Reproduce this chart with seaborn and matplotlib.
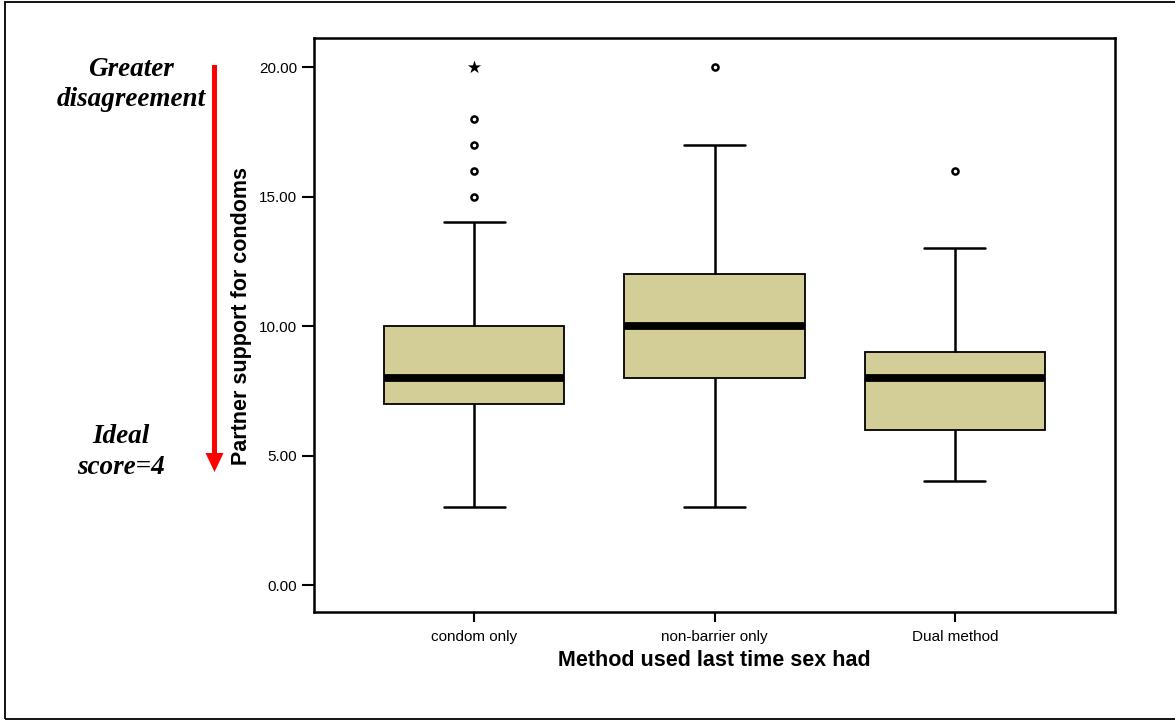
import numpy as np
import pandas as pd
import matplotlib
matplotlib.use("Agg")
import matplotlib.pyplot as plt
from matplotlib.patches import FancyArrow, Rectangle
import seaborn as sns

# ---- data (reconstructed so that box statistics match the picture) ----
categories = ["condom only", "non-barrier only", "Dual method"]
condom_only = [3, 5, 6, 6, 7, 7, 7, 7, 8, 8, 8, 8, 8, 9, 9, 10, 10, 10, 10, 14,
               15, 16, 17, 18, 20]
non_barrier_only = [3, 6, 7, 7, 8, 8, 9, 9, 10, 10, 10, 10, 11, 11, 12, 12, 13,
                    14, 15, 17, 20]
dual_method = [4, 5, 5, 6, 6, 7, 7, 8, 8, 8, 9, 9, 9, 10, 11, 13, 16]
y_ticks = [0, 5, 10, 15, 20]
y_tick_labels = ["0.00", "5.00", "10.00", "15.00", "20.00"]

groups = [condom_only, non_barrier_only, dual_method]
df = pd.DataFrame({
    "method": np.repeat(categories, [len(g) for g in groups]),
    "score": np.concatenate(groups).astype(float),
})

# SPSS style outliers (o) and extremes (*)
mild_rows, extreme_rows = [], []
for cat, g in zip(categories, groups):
    v = np.asarray(g, float)
    q1, q3 = np.percentile(v, [25, 75])
    iqr = q3 - q1
    for x in v:
        if x > q3 + 3 * iqr or x < q1 - 3 * iqr:
            extreme_rows.append((cat, x))
        elif x > q3 + 1.5 * iqr or x < q1 - 1.5 * iqr:
            mild_rows.append((cat, x))
mild_df = pd.DataFrame(mild_rows, columns=["method", "score"])
extreme_df = pd.DataFrame(extreme_rows, columns=["method", "score"])

sns.set_theme(style="white")
plt.rcParams["font.family"] = ["Liberation Sans", "DejaVu Sans"]
plt.rcParams["text.color"] = "black"
plt.rcParams["axes.labelcolor"] = "black"
plt.rcParams["xtick.color"] = "black"
plt.rcParams["ytick.color"] = "black"

W, H = 1175, 721
fig = plt.figure(figsize=(W / 100, H / 100), dpi=100)
ax = fig.add_axes([314 / W, 1 - 612 / H, (1115 - 314) / W, (612 - 38) / H])

sns.boxplot(data=df, x="method", y="score", order=categories, ax=ax,
            color="#D3CD98", saturation=1, width=0.75, linecolor="black",
            linewidth=1.3, showfliers=False, capwidths=0.255,
            medianprops={"linewidth": 5.6},
            whiskerprops={"linewidth": 1.8}, capprops={"linewidth": 1.8})
sns.stripplot(data=mild_df, x="method", y="score", order=categories, ax=ax,
              jitter=False, marker="o", color="white", edgecolor="black",
              linewidth=1.8, size=4.4)
sns.stripplot(data=extreme_df, x="method", y="score", order=categories, ax=ax,
              jitter=False, marker="*", color="black", size=10)

ax.set_xlim(-0.667, 2.667)
ax.set_ylim(-1.04, 21.12)
ax.set_yticks(y_ticks)
ax.set_yticklabels(y_tick_labels)
for s in ax.spines.values():
    s.set_linewidth(1.8)
    s.set_color("black")
ax.tick_params(axis="y", which="major", left=True, length=9, width=1.5,
               labelsize=11, pad=3, colors="black")
ax.tick_params(axis="x", which="major", bottom=True, length=7, width=1.5,
               labelsize=11, pad=6, colors="black")
ax.set_xlabel("Method used last time sex had", fontsize=15.5,
              fontweight="bold", color="black")
ax.set_ylabel("Partner support for condoms", fontsize=15.5,
              fontweight="bold", color="black")
ax.xaxis.set_label_coords(0.5, -(660 - 612) / 574)
ax.yaxis.set_label_coords(-(314 - 242) / 801, (612 - 316) / 574)
ax.xaxis.label.set_va("center")
ax.yaxis.label.set_va("center")

# left-hand annotation
serif = dict(family=["Liberation Serif", "DejaVu Serif"], fontweight="bold",
             style="italic", fontsize=19.5, ha="center", va="center",
             color="black")
fig.text(131 / W, 1 - 69 / H, "Greater", **serif)
fig.text(131 / W, 1 - 99 / H, "disagreement", **serif)
fig.text(121 / W, 1 - 437 / H, "Ideal", **serif)
fig.text(121 / W, 1 - 467 / H, "score=4", **serif)

fig.add_artist(FancyArrow(2.145, (H - 65) / 100, 0, -(472 - 65) / 100,
                          width=0.05, head_width=0.18, head_length=0.19,
                          length_includes_head=True, color="#FF0000",
                          linewidth=0, transform=fig.dpi_scale_trans))

fig.add_artist(Rectangle((0.045, 0.02), 12.0, (719 - 2) / 100,
                         fill=False, edgecolor="black", linewidth=1.3,
                         transform=fig.dpi_scale_trans))

fig.savefig("out.png", dpi=100)
